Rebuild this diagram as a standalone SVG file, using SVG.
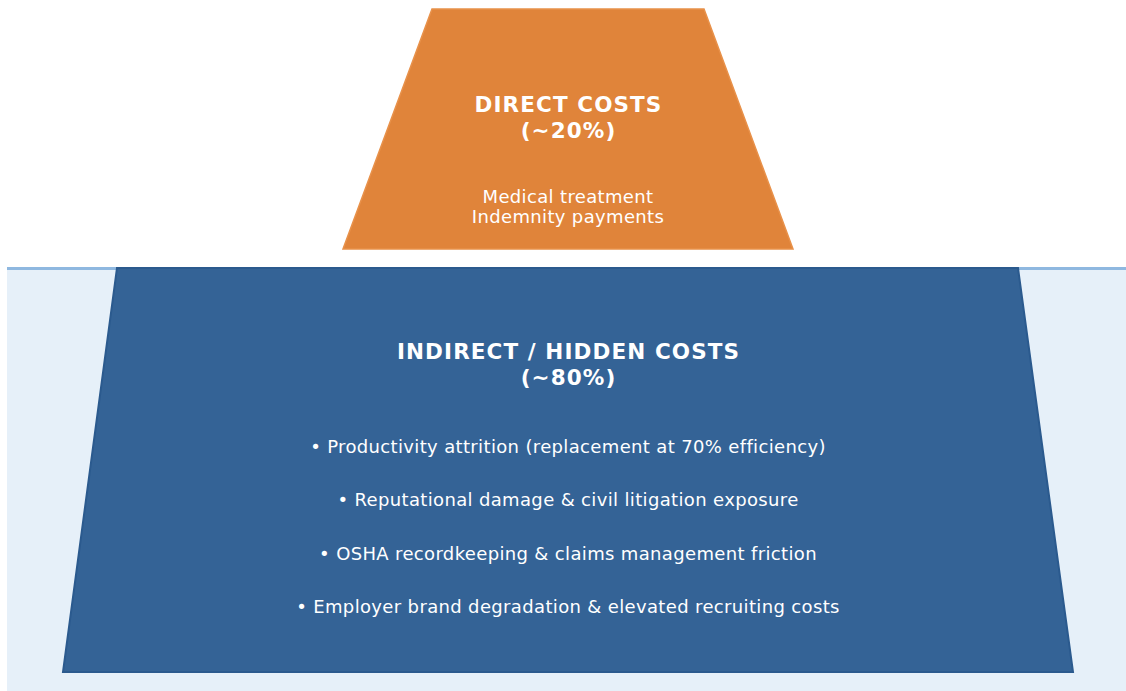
<svg xmlns="http://www.w3.org/2000/svg" width="1126" height="691" viewBox="0 0 1126 691">
<style>
.t{font-family:"DejaVu Sans",Verdana,sans-serif;fill:#ffffff;text-anchor:middle}
.h{font-weight:bold;font-size:21.5px;letter-spacing:1.1px}
.b{font-size:18px;letter-spacing:0.35px}
</style>
<rect width="1126" height="691" fill="#ffffff"/>
<g id="water">
<rect x="7" y="268" width="1119" height="423" fill="#e6f0f9"/>
<line x1="7" y1="268.5" x2="1126" y2="268.5" stroke="#8fb8e0" stroke-width="3"/>
</g>
<g id="direct">
<polygon points="432,9 704,9 793,249 343,249" fill="#e0843a" stroke="#e8914a" stroke-width="1.5"/>
<text class="t h" x="568.5" y="112">DIRECT COSTS</text>
<text class="t h" x="568.5" y="138">(~20%)</text>
<text class="t b" x="568" y="203">Medical treatment</text>
<text class="t b" x="568" y="223">Indemnity payments</text>
</g>
<g id="indirect">
<polygon points="117,268 1018,268 1073,672 63,672" fill="#346396" stroke="#2b5a8e" stroke-width="2"/>
<text class="t h" x="568.5" y="359">INDIRECT / HIDDEN COSTS</text>
<text class="t h" x="568.5" y="385">(~80%)</text>
<text class="t b" x="568" y="453">• Productivity attrition (replacement at 70% efficiency)</text>
<text class="t b" x="568" y="506">• Reputational damage &amp; civil litigation exposure</text>
<text class="t b" x="568" y="560">• OSHA recordkeeping &amp; claims management friction</text>
<text class="t b" x="568" y="613">• Employer brand degradation &amp; elevated recruiting costs</text>
</g>
<g id="connectors"/>
</svg>
